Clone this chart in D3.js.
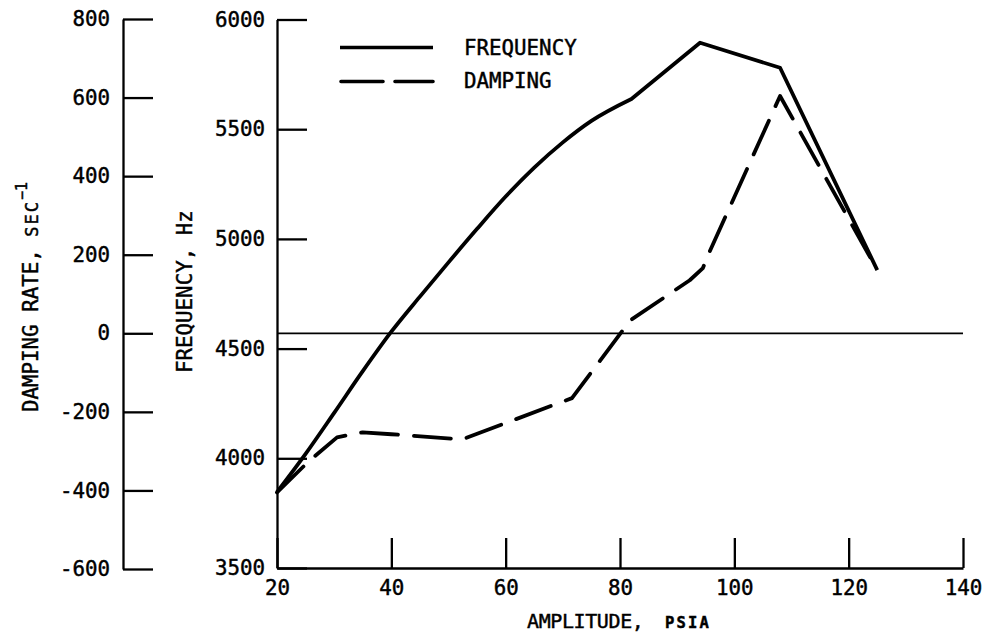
<!DOCTYPE html>
<html>
<head>
<meta charset="utf-8">
<script src="https://cdn.jsdelivr.net/npm/d3@7"></script>
<style>
  html, body { margin: 0; padding: 0; background: #fff; }
  svg { display: block; }
  text { font-family: "DejaVu Sans Mono", "Liberation Mono", monospace; fill: #000; stroke: #000; stroke-width: 0.45px; }
</style>
</head>
<body>
<svg id="chart" width="987" height="637"></svg>
<script>
// Frequency (Hz) of the oscillation versus pressure amplitude (psia)
const amplitudeFreq = [20, 25, 30, 35, 40, 45, 50, 55, 60, 65, 70, 75, 82, 94, 108, 125];
const frequencyHz   = [3846, 4020, 4207, 4397, 4577, 4737, 4893, 5046, 5193, 5325, 5440, 5538, 5638, 5894, 5780, 4858];
const smoothEnd = 12; // the curve is smooth up to 82 psia, then straight segments

// Damping rate (1/sec) versus pressure amplitude (psia)
const amplitudeDamp = [20, 25.4, 30.5, 35, 40, 52.4, 71.6, 81.8, 92.2, 94.5, 95.4, 108, 125];
const dampingRate   = [-405, -328, -265, -252, -257, -270, -165, 33, 135, 166, 199, 604, 161];

// Axis ticks
const amplitudeTicks = [20, 40, 60, 80, 100, 120, 140];
const frequencyTicks = [3500, 4000, 4500, 5000, 5500, 6000];
const dampingTicks   = [-600, -400, -200, 0, 200, 400, 600, 800];

// Legend entries
const legendLabels = ["FREQUENCY", "DAMPING"];

const svg = d3.select("#chart");

const x  = d3.scaleLinear().domain([20, 140]).range([277, 963]);
const yF = d3.scaleLinear().domain([3500, 6000]).range([568, 19.5]);
const yD = d3.scaleLinear().domain([-600, 800]).range([569, 19]);

const fontSize = 20.8;

function styleAxis(g, width) {
  g.select(".domain").attr("stroke", "#000").attr("stroke-width", width);
  g.selectAll(".tick line").attr("stroke", "#000").attr("stroke-width", width);
  g.selectAll(".tick text")
    .attr("font-size", fontSize)
    .attr("font-family", "DejaVu Sans Mono, monospace")
    .attr("fill", "#000");
}

// Damping-rate axis (far left), ticks pointing right
const dampAxis = svg.append("g")
  .attr("transform", "translate(123,0)")
  .call(d3.axisLeft(yD).tickValues(dampingTicks).tickFormat(d3.format("d"))
    .tickSizeInner(-30).tickSizeOuter(0).tickPadding(13));
styleAxis(dampAxis, 2.3);
dampAxis.selectAll(".tick text").text(d => d < 0 ? "-" + Math.abs(d) : d);

// Frequency axis, ticks pointing into the plot
const freqAxis = svg.append("g")
  .attr("transform", "translate(277,0)")
  .call(d3.axisLeft(yF).tickValues(frequencyTicks).tickFormat(d3.format("d"))
    .tickSizeInner(-30).tickSizeOuter(0).tickPadding(12));
styleAxis(freqAxis, 2.3);

// Amplitude axis along the bottom, ticks pointing up
const ampAxis = svg.append("g")
  .attr("transform", "translate(0,568)")
  .call(d3.axisBottom(x).tickValues(amplitudeTicks).tickFormat(d3.format("d"))
    .tickSizeInner(-30).tickSizeOuter(0).tickPadding(12));
styleAxis(ampAxis, 2.3);

// Zero-damping reference line
svg.append("line")
  .attr("x1", x(20)).attr("x2", x(140))
  .attr("y1", yD(0)).attr("y2", yD(0))
  .attr("stroke", "#000").attr("stroke-width", 1.8);

// Frequency curve (solid): smooth rise, then straight segments through the peak
const freqPts = amplitudeFreq.map((a, i) => [x(a), yF(frequencyHz[i])]);
const smoothLine = d3.line().curve(d3.curveMonotoneX);
const straightLine = d3.line();
svg.append("path")
  .attr("d", smoothLine(freqPts.slice(0, smoothEnd + 1)) + straightLine(freqPts.slice(smoothEnd)).replace(/^M/, "L"))
  .attr("fill", "none")
  .attr("stroke", "#000")
  .attr("stroke-width", 3.8)
  .attr("stroke-linejoin", "round");

// Damping curve (dashed)
const dampLine = d3.line()
  .x((d, i) => x(amplitudeDamp[i]))
  .y(d => yD(d));
svg.append("path")
  .datum(dampingRate)
  .attr("d", dampLine)
  .attr("fill", "none")
  .attr("stroke", "#000")
  .attr("stroke-width", 3.8)
  .attr("stroke-linecap", "round")
  .attr("stroke-linejoin", "round")
  .attr("stroke-dasharray", "37,16");

// Legend
const legend = svg.append("g");
legend.append("line")
  .attr("x1", 340).attr("x2", 433).attr("y1", 47.5).attr("y2", 47.5)
  .attr("stroke", "#000").attr("stroke-width", 3.6);
legend.append("line")
  .attr("x1", 341).attr("x2", 433).attr("y1", 81.5).attr("y2", 81.5)
  .attr("stroke", "#000").attr("stroke-width", 3.6)
  .attr("stroke-linecap", "round")
  .attr("stroke-dasharray", "42,12");
legend.selectAll("text.leg")
  .data(legendLabels)
  .enter().append("text")
  .attr("class", "leg")
  .attr("x", 464)
  .attr("y", (d, i) => 55 + i * 33)
  .attr("font-size", fontSize)
  .text(d => d);

// Axis titles
const dampTitle = svg.append("text")
  .attr("transform", "translate(38,412) rotate(-90)")
  .attr("font-size", fontSize);
dampTitle.append("tspan").text("DAMPING RATE, ");
dampTitle.append("tspan").attr("font-size", 17).attr("letter-spacing", 2).text("SEC");
dampTitle.append("tspan").attr("font-size", 15).attr("dy", -11).text("\u22121");

const freqTitle = svg.append("text")
  .attr("transform", "translate(192,373) rotate(-90)")
  .attr("font-size", fontSize);
freqTitle.append("tspan").text("FREQUENCY, Hz");

const ampTitle = svg.append("text")
  .attr("x", 527).attr("y", 628)
  .attr("font-size", 20)
  .attr("letter-spacing", -0.4);
ampTitle.append("tspan").text("AMPLITUDE,");
ampTitle.append("tspan")
  .attr("x", 665)
  .attr("font-size", 15.5)
  .attr("font-weight", "bold")
  .attr("letter-spacing", 2.2)
  .text("PSIA");
</script>
</body>
</html>
